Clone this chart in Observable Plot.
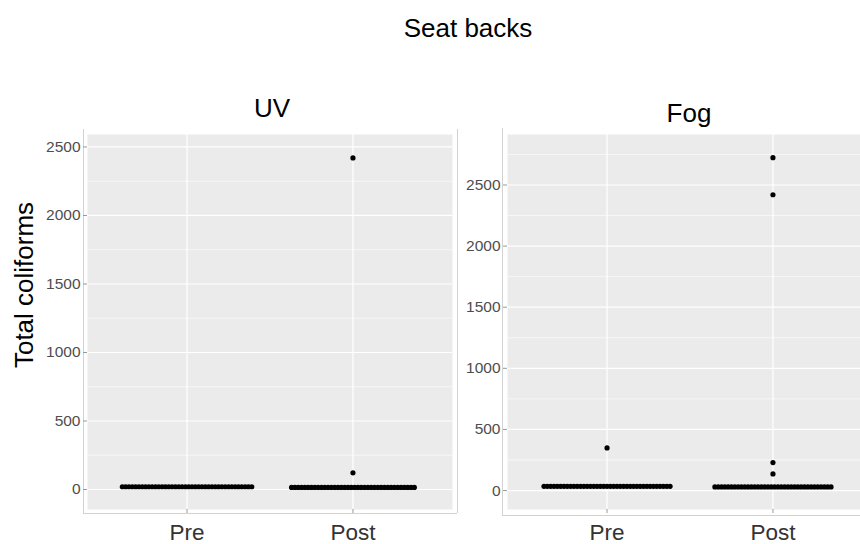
<!DOCTYPE html>
<html><head><meta charset="utf-8">
<script src="https://cdn.jsdelivr.net/npm/d3@7"></script>
<script src="https://cdn.jsdelivr.net/npm/@observablehq/plot@0.6"></script>
<style>
html,body{margin:0;padding:0;background:#fff;}
#wrap{position:relative;width:860px;height:544px;overflow:hidden;font-family:"Liberation Sans",Arial,sans-serif;}
.t{position:absolute;font-size:26px;line-height:26px;color:#000;white-space:nowrap;transform:translateX(-50%);}
</style></head><body>
<div id="wrap">
  <div id="left" style="position:absolute;left:0;top:0;width:460px;height:544px"></div>
  <div id="right" style="position:absolute;left:460px;top:0;width:412px;height:544px"></div>
  <div class="t" style="left:468px;top:15px">Seat backs</div>
  <div class="t" style="left:272px;top:95px">UV</div>
  <div class="t" style="left:689px;top:100px">Fog</div>
  <div class="t" style="left:24px;top:285px;transform:translate(-50%,-50%) rotate(-90deg)">Total coliforms</div>
</div>
<script>
const categories = ["Pre", "Post"];
const yTicks = [0, 500, 1000, 1500, 2000, 2500];
const yMinorTicks = [250, 750, 1250, 1750, 2250, 2750];

// binned values (MPN) and number of samples stacked in each bin
const uvPreValues = [20];
const uvPreCounts = [40];
const uvPostValues = [15, 122, 2420];
const uvPostCounts = [38, 1, 1];
const fogPreValues = [35, 349];
const fogPreCounts = [39, 1];
const fogPostValues = [30, 136, 229, 2420, 2723];
const fogPostCounts = [36, 1, 1, 1, 1];

function stack(values, counts, catIndex) {
  const rows = [];
  values.forEach((v, j) => {
    const c = counts[j];
    for (let k = 0; k < c; k++) rows.push({cat: catIndex, value: v, slot: k - (c - 1) / 2});
  });
  return rows;
}

const xDomain = [0.4, 2.6];
const step = 0.02; // horizontal stacking distance between dots (x units)

function panel({data, yDomain, width, marginLeft, marginRight, leftDx, bottomDy, topInset, rightDx}) {
  const marks = [
    Plot.frame({fill: "#EBEBEB", stroke: "none"}),
    Plot.ruleY(yMinorTicks.filter(v => v > yDomain[0] && v < yDomain[1]), {stroke: "white", strokeWidth: 0.6}),
    Plot.ruleY(yTicks, {stroke: "white", strokeWidth: 1.2}),
    Plot.ruleX([1, 2], {stroke: "white", strokeWidth: 1.2}),
    Plot.ruleX([xDomain[0]], {dx: leftDx, insetTop: topInset, insetBottom: -bottomDy, stroke: "#d2d2d2"}),
    Plot.ruleY([yDomain[0]], {dy: bottomDy, insetLeft: leftDx, insetRight: rightDx == null ? 0 : -rightDx, stroke: "#d2d2d2"}),
    Plot.axisY({ticks: yTicks, tickFormat: d3.format("d"), tickSize: 4, tickPadding: 3, fontSize: 15.5, fill: "#4d4d4d", stroke: "#999", label: null}),
    Plot.axisX({ticks: [1, 2], tickFormat: i => categories[i - 1], tickSize: 4, tickPadding: 10.5, fontSize: 22.5, fill: "#333", stroke: "#999", label: null}),
    Plot.dot(data, {x: d => d.cat + d.slot * step, y: "value", r: 2.6, fill: "black"})
  ];
  if (rightDx != null) marks.push(Plot.ruleX([xDomain[1]], {dx: rightDx, insetTop: topInset, insetBottom: -bottomDy, stroke: "#d2d2d2"}));
  return Plot.plot({
    width, height: 544,
    marginLeft, marginRight, marginTop: 134, marginBottom: 35,
    style: {fontFamily: "Liberation Sans, Arial, sans-serif", background: "transparent", maxWidth: "none"},
    x: {type: "linear", domain: xDomain},
    y: {domain: yDomain},
    marks
  });
}

const uvData = [...stack(uvPreValues, uvPreCounts, 1), ...stack(uvPostValues, uvPostCounts, 2)];
const fogData = [...stack(fogPreValues, fogPreCounts, 1), ...stack(fogPostValues, fogPostCounts, 2)];

document.getElementById("left").append(panel({
  data: uvData, yDomain: [-146, 2591], width: 460, marginLeft: 87, marginRight: 8,
  leftDx: -4, bottomDy: 4, topInset: -5, rightDx: 5
}));
document.getElementById("right").append(panel({
  data: fogData, yDomain: [-155, 2913], width: 412, marginLeft: 47, marginRight: 0,
  leftDx: -5, bottomDy: 6, topInset: -6, rightDx: null
}));
</script>
</body></html>
